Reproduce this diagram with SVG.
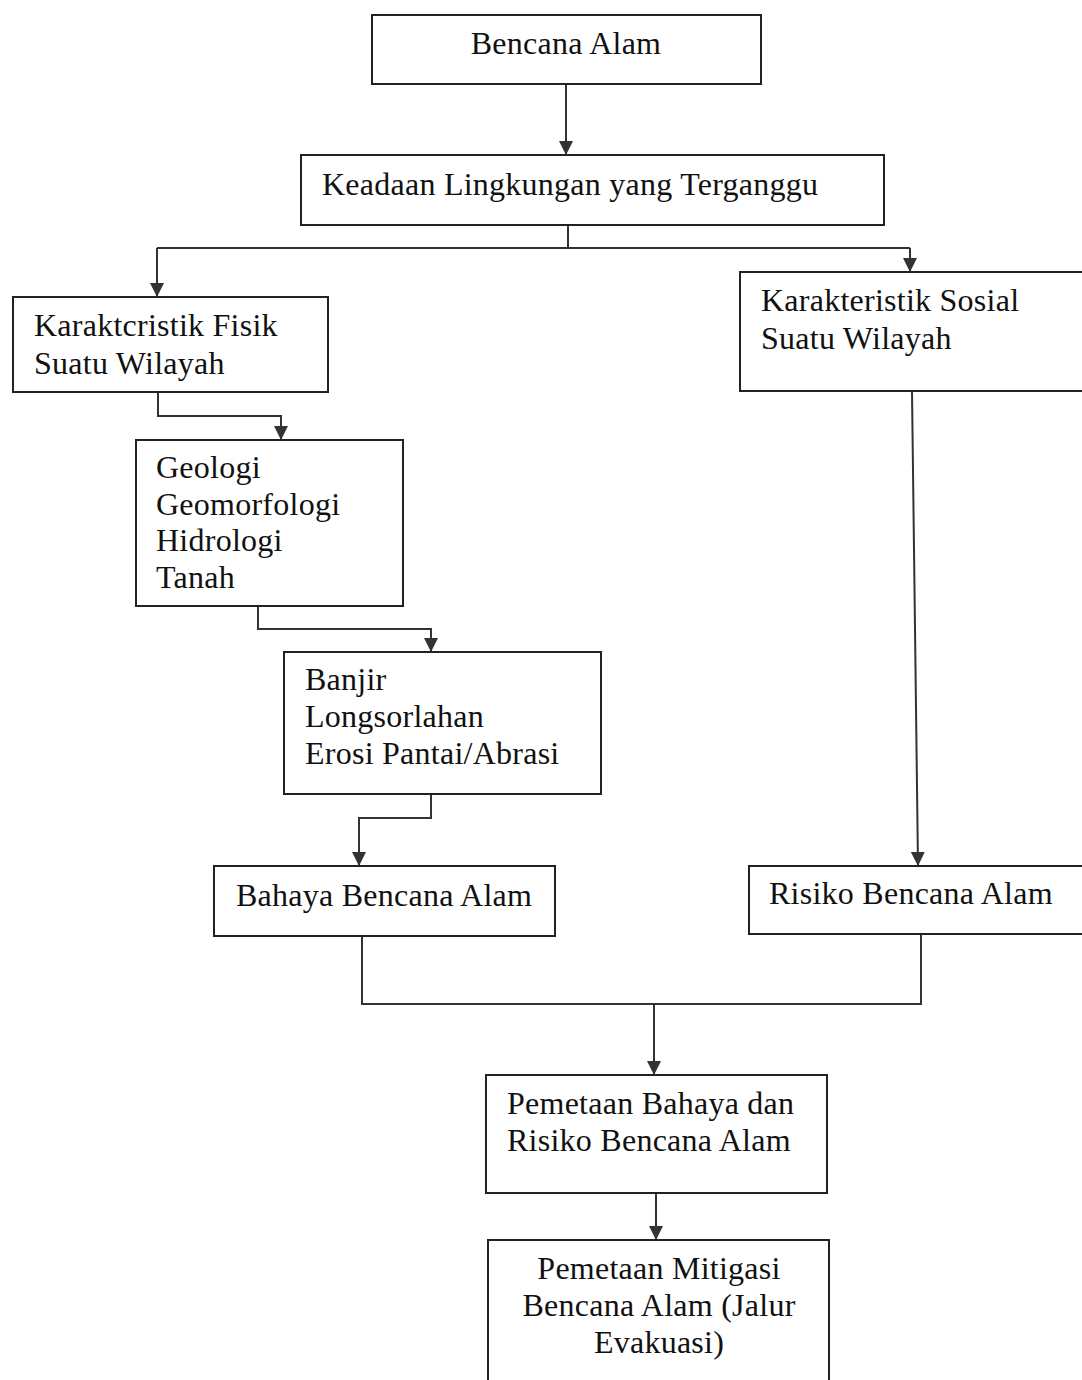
<svg xmlns="http://www.w3.org/2000/svg" width="1082" height="1380" viewBox="0 0 1082 1380">
<style>
.box{fill:#fff;stroke:#222;stroke-width:2}
.t{font-family:"Liberation Serif","Times New Roman",serif;font-size:32px;letter-spacing:0.25px;fill:#111}
.c{fill:none;stroke:#333;stroke-width:2}
</style>
<defs>
<marker id="ad" markerUnits="userSpaceOnUse" markerWidth="14" markerHeight="16" refX="14" refY="7" orient="auto" viewBox="0 0 14 14">
<path d="M0,0 L14,7 L0,14 Z" fill="#333"/>
</marker>
</defs>
<rect width="1082" height="1380" fill="#fff"/>
<g id="connectors">
<path class="c" d="M566,84 V155" marker-end="url(#ad)"/>
<path class="c" d="M568,225 V248"/>
<path class="c" d="M157,248 H910"/>
<path class="c" d="M157,248 V297" marker-end="url(#ad)"/>
<path class="c" d="M910,248 V272" marker-end="url(#ad)"/>
<path class="c" d="M158,392 V416 H281 V440" marker-end="url(#ad)"/>
<path class="c" d="M258,606 V629 H431 V652" marker-end="url(#ad)"/>
<path class="c" d="M431,794 V818 H359 V866" marker-end="url(#ad)"/>
<path class="c" d="M912,391 L918,866" marker-end="url(#ad)"/>
<path class="c" d="M362,936 V1004 H921 V934"/>
<path class="c" d="M654,1004 V1075" marker-end="url(#ad)"/>
<path class="c" d="M656,1193 V1240" marker-end="url(#ad)"/>
</g>
<g id="n1">
<rect class="box" x="372" y="15" width="389" height="69"/>
<text class="t" x="566" y="54" text-anchor="middle">Bencana Alam</text>
</g>
<g id="n2">
<rect class="box" x="301" y="155" width="583" height="70"/>
<text class="t" x="322" y="195">Keadaan Lingkungan yang Terganggu</text>
</g>
<g id="n3">
<rect class="box" x="13" y="297" width="315" height="95"/>
<text class="t" x="34" y="336">Karaktcristik Fisik</text>
<text class="t" x="34" y="374">Suatu Wilayah</text>
</g>
<g id="n4">
<rect class="box" x="740" y="272" width="346" height="119"/>
<text class="t" x="761" y="311">Karakteristik Sosial</text>
<text class="t" x="761" y="349">Suatu Wilayah</text>
</g>
<g id="n5">
<rect class="box" x="136" y="440" width="267" height="166"/>
<text class="t" x="156" y="478">Geologi</text>
<text class="t" x="156" y="515">Geomorfologi</text>
<text class="t" x="156" y="551">Hidrologi</text>
<text class="t" x="156" y="588">Tanah</text>
</g>
<g id="n6">
<rect class="box" x="284" y="652" width="317" height="142"/>
<text class="t" x="305" y="690">Banjir</text>
<text class="t" x="305" y="727">Longsorlahan</text>
<text class="t" x="305" y="764">Erosi Pantai/Abrasi</text>
</g>
<g id="n7">
<rect class="box" x="214" y="866" width="341" height="70"/>
<text class="t" x="236" y="906">Bahaya Bencana Alam</text>
</g>
<g id="n8">
<rect class="box" x="749" y="866" width="337" height="68"/>
<text class="t" x="769" y="904">Risiko Bencana Alam</text>
</g>
<g id="n9">
<rect class="box" x="486" y="1075" width="341" height="118"/>
<text class="t" x="507" y="1114">Pemetaan Bahaya dan</text>
<text class="t" x="507" y="1151">Risiko Bencana Alam</text>
</g>
<g id="n10">
<rect class="box" x="488" y="1240" width="341" height="145"/>
<text class="t" x="659" y="1279" text-anchor="middle">Pemetaan Mitigasi</text>
<text class="t" x="659" y="1316" text-anchor="middle">Bencana Alam (Jalur</text>
<text class="t" x="659" y="1353" text-anchor="middle">Evakuasi)</text>
</g>
</svg>
